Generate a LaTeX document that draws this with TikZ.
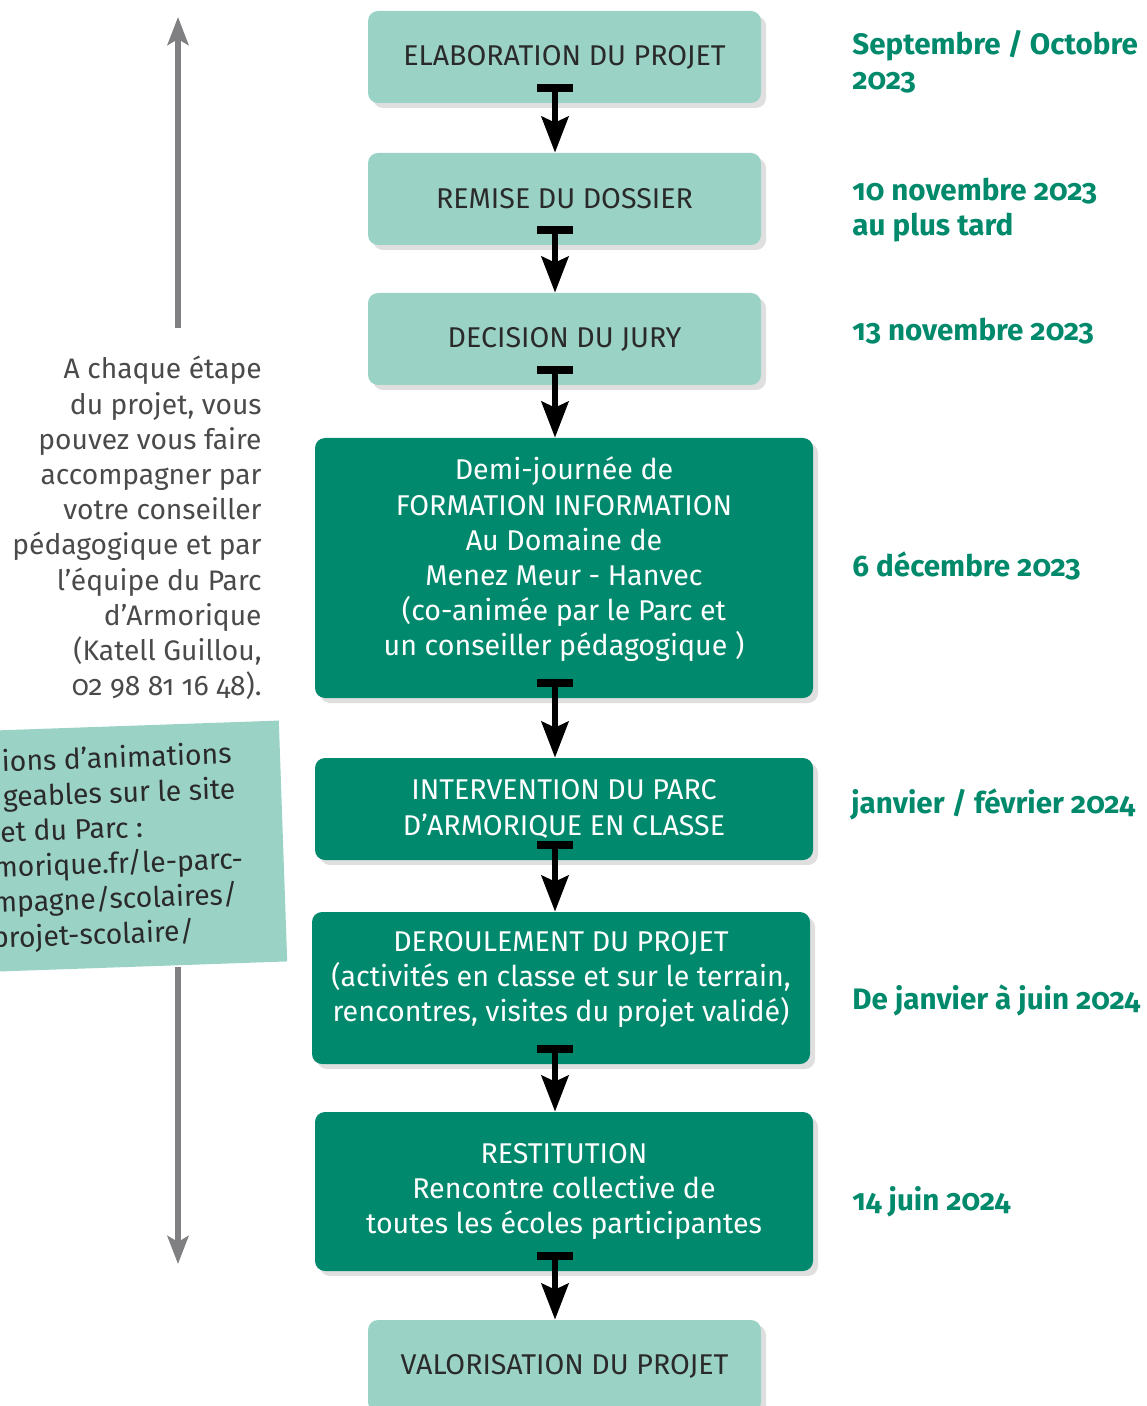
\documentclass[tikz,border=0pt]{standalone}
\usepackage{fontspec}
\setmainfont[Numbers=OldStyle]{Fira Sans}
\usetikzlibrary{arrows.meta, shadows, positioning}

\definecolor{pale}{HTML}{9AD2C6}
\definecolor{deep}{HTML}{00896D}
\definecolor{dategreen}{HTML}{00896B}
\definecolor{ink}{HTML}{2B2A2A}
\definecolor{softink}{HTML}{4A4A4A}
\definecolor{rail}{HTML}{808083}

\begin{document}
\begin{tikzpicture}[x=0.5pt, y=-0.5pt,
  stage/.style={rectangle, rounded corners=5pt, align=center,
    font=\fontsize{14.3}{17.6}\selectfont,
    drop shadow={shadow xshift=2.5pt, shadow yshift=-2.5pt, opacity=0.25}},
  light/.style={stage, fill=pale, text=ink, minimum width=196.5pt, minimum height=46pt},
  dark/.style={stage, fill=deep, text=white, minimum width=249pt},
  date/.style={anchor=west, align=left, inner sep=0pt, text=dategreen,
    font=\fontsize{14.8}{17.6}\selectfont\bfseries},
  flow/.style={line width=3pt,
    {Bar[width=18pt,line width=4pt]}-{Stealth[length=18pt,width=13.5pt,inset=3pt]}},
  span/.style={rail, line width=3pt, -{Stealth[length=14pt,width=10.5pt,inset=3pt]}}]

  \useasboundingbox (0,0) rectangle (1146,1406);

  % steps
  \node[light] (elab) at (564.5,57) {ELABORATION DU PROJET};
  \node[light] (remise) at (564.5,199) {REMISE DU DOSSIER};
  \node[light] (jury) at (564.5,339) {DECISION DU JURY};
  \node[dark, minimum height=130pt] (formation) at (564,568)
    {Demi-journée de\\FORMATION INFORMATION\\Au Domaine de\\Menez Meur - Hanvec\\(co-animée par le Parc et\\un conseiller pédagogique )\\[-6pt]};
  \node[dark, minimum height=51pt] (intervention) at (564,809)
    {INTERVENTION DU PARC\\D’ARMORIQUE EN CLASSE};
  \node[dark, minimum height=76pt] (deroulement) at (561,988)
    {DEROULEMENT DU PROJET\\(activités en classe et sur le terrain,\\rencontres, visites du projet validé)\\[-6pt]};
  \node[dark, minimum height=79.5pt] (restitution) at (564,1191.5)
    {RESTITUTION\\Rencontre collective de\\toutes les écoles participantes};
  \node[light] (valorisation) at (564.5,1366) {VALORISATION DU PROJET};

  % dates
  \node[date] (d1) at (852,62) {Septembre / Octobre\\2023};
  \node[date] (d2) at (852,210) {10 novembre 2023\\au plus tard};
  \node[date] (d3) at (852,331) {13 novembre 2023};
  \node[date] (d4) at (852,566) {6 décembre 2023};
  \node[date] (d5) at (851,804) {janvier / février 2024};
  \node[date] (d6) at (852,1000) {De janvier à juin 2024};
  \node[date] (d7) at (852,1202) {14 juin 2024};

  % arrows between steps
  \coordinate (axis) at (555,0);
  \foreach \a/\b in {elab/remise, remise/jury, jury/formation,
      formation/intervention, intervention/deroulement,
      deroulement/restitution, restitution/valorisation}
    \draw[flow] ([yshift=9.5pt]\a.south -| axis) -- (\b.north -| axis);

  % left side
  \node[anchor=east, align=right, inner sep=0pt, text=softink,
    font=\fontsize{14.1}{17.6}\selectfont] (advice) at (262,528)
    {A chaque étape\\du projet, vous\\pouvez vous faire\\accompagner par\\votre conseiller\\pédagogique et par\\l’équipe du Parc\\d’Armorique\\(Katell Guillou,\\02 98 81 16 48).};

  \fill[pale, rotate around={2:(283,841)}] (-120,720.5) rectangle (283,961.5);
  \node[rotate=2, anchor=north west, align=left, inner sep=0pt, text=ink,
    font=\fontsize{14.2}{17.6}\selectfont] (links) at (1,749)
    {ions d’animations\\geables sur le site\\\hspace*{-2pt}et du Parc :\\\hspace*{-6pt}morique.fr/le-parc-\\\hspace*{-7pt}mpagne/scolaires/\\\hspace*{-8pt}projet-scolaire/};

  \coordinate (railstart) at (178,328);
  \coordinate (railtop) at (178,17);
  \coordinate (railfoot) at (178,967);
  \coordinate (railend) at (178,1264);
  \draw[span] (railstart) -- (railtop);
  \draw[span] (railfoot) -- (railend);
\end{tikzpicture}
\end{document}
